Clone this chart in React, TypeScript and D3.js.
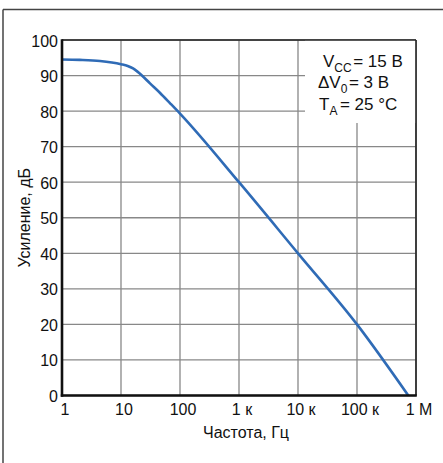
import React from 'react';
import * as d3 from 'd3';

// частота, Гц / усиление, дБ
const freq = [1, 2, 4.4, 10, 13, 16, 19, 22.4, 31, 46, 68, 100, 1000, 10000, 100000, 740000];
const gain = [94.5, 94.4, 94.1, 93.2, 92.7, 92, 91.1, 90.1, 87.8, 85.1, 82.2, 79.3, 60, 40, 20, 0];

const xTicks = [1, 10, 100, 1e3, 1e4, 1e5, 1e6];
const xTickLabels = ['1', '10', '100', '1 к', '10 к', '100 к', '1 М'];
const yTicks = [0, 10, 20, 30, 40, 50, 60, 70, 80, 90, 100];

const W = 443;
const H = 463;
const font = '"Liberation Sans", Arial, sans-serif';

export default function App() {
  const x = d3.scaleLog().domain([1, 1e6]).range([62, 416]);
  const y = d3.scaleLinear().domain([0, 100]).range([395.5, 40]);

  const line = d3
    .line<number>()
    .x((d, i) => x(freq[i]))
    .y((d) => y(d))
    .curve(d3.curveMonotoneX);

  const [x0, x1] = x.range();
  const [y0, y1] = y.range();

  return (
    <svg
      width={W}
      height={H}
      style={{ position: 'absolute', left: 0, top: 0, background: '#fff' }}
      fontFamily={font}
    >
      {/* внешняя рамка */}
      <line x1={3} y1={9.5} x2={W} y2={9.5} stroke="#444" strokeWidth={1.5} />
      <line x1={3} y1={9.5} x2={3} y2={H} stroke="#444" strokeWidth={1.5} />

      {/* сетка */}
      {yTicks.map((v) => (
        <line key={'gy' + v} x1={x0} x2={x1} y1={y(v)} y2={y(v)} stroke="#888" strokeWidth={1.3} />
      ))}
      {xTicks.map((v) => (
        <line key={'gx' + v} x1={x(v)} x2={x(v)} y1={y0} y2={y1} stroke="#888" strokeWidth={1.3} />
      ))}

      {/* место под подпись условий */}
      <rect x={305} y={y1} width={x1 - 305} height={123 - y1} fill="#fff" />

      <path d={line(gain) || ''} fill="none" stroke="#2f6bb6" strokeWidth={2.6} />

      {/* рамка графика */}
      <line x1={x0} x2={x1} y1={y1} y2={y1} stroke="#222" strokeWidth={1.6} />
      <line x1={x1} x2={x1} y1={y1} y2={y0} stroke="#222" strokeWidth={1.6} />
      <line x1={x0} x2={x0} y1={y1 - 0.8} y2={y0 + 1.2} stroke="#111" strokeWidth={2.6} />
      <line x1={x0 - 1.2} x2={x1 + 0.8} y1={y0} y2={y0} stroke="#111" strokeWidth={2.6} />

      {/* подписи делений */}
      {yTicks.map((v) => (
        <text key={'ty' + v} x={58} y={y(v) + 6.5} textAnchor="end" fontSize={16} fill="#111">
          {v}
        </text>
      ))}
      {xTicks.map((v, i) => (
        <text key={'tx' + v} x={x(v) + 3} y={415} textAnchor="middle" fontSize={16} fill="#111">
          {xTickLabels[i]}
        </text>
      ))}

      {/* названия осей */}
      <text x={246} y={438} textAnchor="middle" fontSize={16} fill="#111">
        Частота, Гц
      </text>
      <text
        transform={`translate(29.5,${(y0 + y1) / 2}) rotate(-90)`}
        textAnchor="middle"
        fontSize={16}
        fill="#111"
      >
        Усиление, дБ
      </text>

      {/* условия */}
      <g fontSize={17} fill="#111">
        <text x={323} y={66.5}>
          V<tspan fontSize={12} dy={5}>CC</tspan>
          <tspan dy={-5} dx={1.5}>= 15 В</tspan>
        </text>
        <text x={318} y={88.3}>
          ΔV<tspan fontSize={12} dy={5}>0</tspan>
          <tspan dy={-5} dx={1.5}>= 3 В</tspan>
        </text>
        <text x={319} y={110}>
          T<tspan fontSize={12} dy={5}>A</tspan>
          <tspan dy={-5} dx={2.5}>= 25 °C</tspan>
        </text>
      </g>
    </svg>
  );
}
